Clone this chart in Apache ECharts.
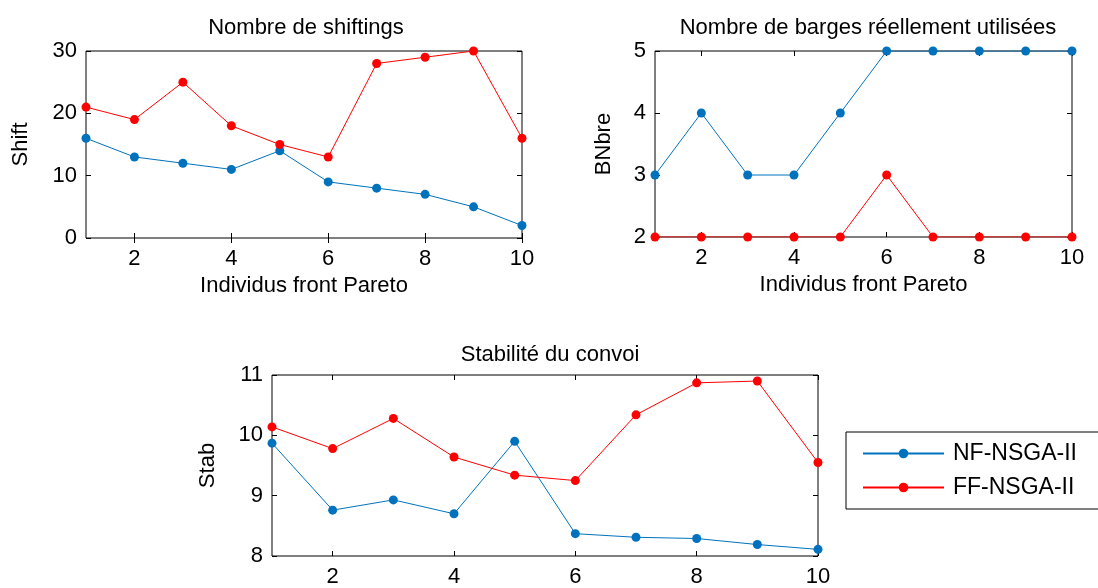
<!DOCTYPE html>
<html>
<head>
<meta charset="utf-8">
<script src="https://cdn.jsdelivr.net/npm/echarts@6/dist/echarts.min.js"></script>
<style>
  html, body { margin: 0; padding: 0; background: #fff; }
  #main { width: 1098px; height: 588px; }
</style>
</head>
<body>
<div id="main"></div>
<script>
// individus du front de Pareto
const individus = [1, 2, 3, 4, 5, 6, 7, 8, 9, 10];
const xTicks = [2, 4, 6, 8, 10];

// Nombre de shiftings
const shiftNF = [16, 13, 12, 11, 14, 9, 8, 7, 5, 2];
const shiftFF = [21, 19, 25, 18, 15, 13, 28, 29, 30, 16];

// Nombre de barges réellement utilisées
const bargesNF = [3, 4, 3, 3, 4, 5, 5, 5, 5, 5];
const bargesFF = [2, 2, 2, 2, 2, 3, 2, 2, 2, 2];

// Stabilité du convoi
const stabNF = [9.87, 8.76, 8.93, 8.70, 9.90, 8.37, 8.31, 8.29, 8.19, 8.11];
const stabFF = [10.14, 9.78, 10.28, 9.64, 9.34, 9.25, 10.34, 10.87, 10.90, 9.55];

const BLUE = '#0072BD';
const RED = '#FF0000';
const FONT = 'Liberation Sans';

const chart = echarts.init(document.getElementById('main'), null, { renderer: 'canvas' });

const grids = [
  { left: 86, top: 51, width: 436, height: 187 },
  { left: 655, top: 51, width: 417, height: 186 },
  { left: 272, top: 375, width: 546, height: 181 }
];

function pairs(ys) {
  return individus.map((x, i) => [x, ys[i]]);
}

// axes du bas + axes du haut (graduations seulement)
const xAxes = [];
const yAxes = [];
grids.forEach((g, i) => {
  xAxes.push({
    type: 'value', gridIndex: i, min: 1, max: 10, position: 'bottom',
    name: i < 2 ? 'Individus front Pareto' : '',
    nameLocation: 'middle', nameGap: 37,
    nameTextStyle: { fontFamily: FONT, fontSize: 22, color: '#000' },
    axisLine: { show: false },
    axisTick: { show: true, inside: true, length: 5, customValues: xTicks, lineStyle: { color: '#000' } },
    axisLabel: { customValues: xTicks, margin: 10, fontFamily: FONT, fontSize: 22, color: '#000' },
    splitLine: { show: false }
  });
  xAxes.push({
    type: 'value', gridIndex: i, min: 1, max: 10, position: 'top',
    axisLine: { show: false },
    axisTick: { show: true, inside: true, length: 5, customValues: xTicks, lineStyle: { color: '#000' } },
    axisLabel: { show: false },
    splitLine: { show: false }
  });
});

const yCfg = [
  { min: 0, max: 30, interval: 10, name: 'Shift', gap: 54 },
  { min: 2, max: 5, interval: 1, name: 'BNbre', gap: 40 },
  { min: 8, max: 11, interval: 1, name: 'Stab', gap: 53 }
];
yCfg.forEach((c, i) => {
  yAxes.push({
    type: 'value', gridIndex: i, min: c.min, max: c.max, interval: c.interval, position: 'left',
    name: c.name, nameLocation: 'middle', nameGap: c.gap, nameRotate: 90,
    nameTextStyle: { fontFamily: FONT, fontSize: 22, color: '#000' },
    axisLine: { show: false },
    axisTick: { show: true, inside: true, length: 5, lineStyle: { color: '#000' } },
    axisLabel: { margin: 9, fontFamily: FONT, fontSize: 22, color: '#000' },
    splitLine: { show: false }
  });
  yAxes.push({
    type: 'value', gridIndex: i, min: c.min, max: c.max, interval: c.interval, position: 'right',
    axisLine: { show: false },
    axisTick: { show: true, inside: true, length: 5, lineStyle: { color: '#000' } },
    axisLabel: { show: false },
    splitLine: { show: false }
  });
});

function line(name, color, gi, ys) {
  return {
    name: name, type: 'line', xAxisIndex: gi * 2, yAxisIndex: gi * 2,
    data: pairs(ys),
    symbol: 'circle', symbolSize: 9,
    lineStyle: { color: color, width: 1 },
    itemStyle: { color: color },
    animation: false
  };
}

const titleStyle = { fontFamily: FONT, fontSize: 22, fontWeight: 'normal', color: '#000' };

const option = {
  backgroundColor: '#fff',
  animation: false,
  title: [
    { text: 'Nombre de shiftings', left: 301, top: 12, textAlign: 'center', textStyle: titleStyle },
    { text: 'Nombre de barges réellement utilisées', left: 863, top: 12, textAlign: 'center', textStyle: titleStyle },
    { text: 'Stabilité du convoi', left: 545, top: 339, textAlign: 'center', textStyle: titleStyle }
  ],
  legend: {
    orient: 'vertical',
    left: 846, top: 432,
    padding: [10, 60, 10, 16],
    itemGap: 11,
    itemWidth: 81, itemHeight: 12,
    borderColor: '#000', borderWidth: 1,
    textStyle: { fontFamily: FONT, fontSize: 23, color: '#000', padding: [0, 0, 0, 4] },
    data: ['NF-NSGA-II', 'FF-NSGA-II']
  },
  grid: grids.map(g => Object.assign({ show: true, borderColor: '#000', borderWidth: 1, backgroundColor: 'transparent' }, g)),
  xAxis: xAxes,
  yAxis: yAxes,
  series: [
    line('NF-NSGA-II', BLUE, 0, shiftNF),
    line('FF-NSGA-II', RED, 0, shiftFF),
    line('NF-NSGA-II', BLUE, 1, bargesNF),
    line('FF-NSGA-II', RED, 1, bargesFF),
    line('NF-NSGA-II', BLUE, 2, stabNF),
    line('FF-NSGA-II', RED, 2, stabFF)
  ]
};

chart.setOption(option);
</script>
</body>
</html>
